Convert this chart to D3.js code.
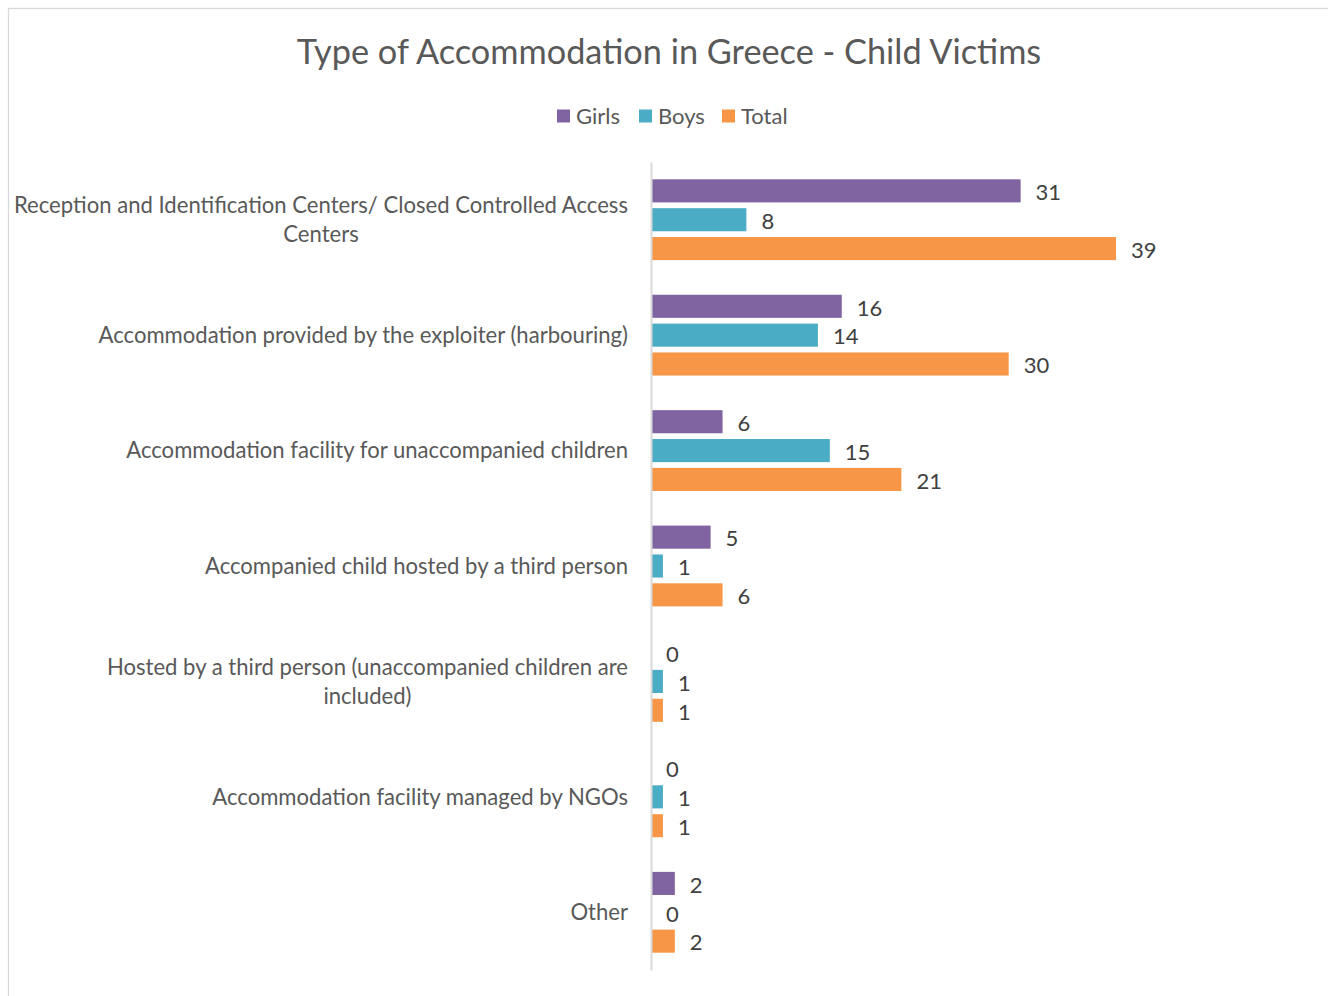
<!DOCTYPE html>
<html><head><meta charset="utf-8">
<script src="https://cdn.jsdelivr.net/npm/d3@7"></script>
<style>html,body{margin:0;padding:0;background:#fff;}svg{display:block;}</style>
</head><body>
<svg id="chart" width="1328" height="996"></svg>
<script>
// "\n" marks where the original label wraps onto a second line
const categories = [
  "Reception and Identification Centers/ Closed Controlled Access\nCenters",
  "Accommodation provided by the exploiter (harbouring)",
  "Accommodation facility for unaccompanied children",
  "Accompanied child hosted by a third person",
  "Hosted by a third person (unaccompanied children are\nincluded)",
  "Accommodation facility managed by NGOs",
  "Other"
];
const seriesNames = ["Girls", "Boys", "Total"];
const girls = [31, 16, 6, 5, 0, 0, 2];
const boys = [8, 14, 15, 1, 1, 1, 0];
const total = [39, 30, 21, 6, 1, 1, 2];
const colors = ["#8064A2", "#4BACC6", "#F79646"];

(function () {
const series = [girls, boys, total];
const svg = d3.select("#chart");
const font = "Lato, Carlito, Calibri, sans-serif";

// chart border
svg.append("rect").attr("x", 8.5).attr("y", 8.5).attr("width", 1340).attr("height", 1010)
  .attr("fill", "none").attr("stroke", "#D9D9D9").attr("stroke-width", 1.3);

const x0 = 651, plotTop = 162, plotBottom = 970;
const x = d3.scaleLinear().domain([0, 39]).range([x0, 1116]);
const y = d3.scaleBand().domain(categories).range([plotTop, plotBottom]).paddingInner(0.3).paddingOuter(0.15);
const ySub = d3.scaleBand().domain(seriesNames).range([0, y.bandwidth()]).paddingInner(0.2);

// title
svg.append("text").attr("x", 669).attr("y", 64).attr("text-anchor", "middle")
  .attr("font-family", font).attr("font-size", 34.3).attr("fill", "#595959")
  .text("Type of Accommodation in Greece - Child Victims");

// legend
const legendX = [557, 639, 722];
seriesNames.forEach((s, i) => {
  const g = svg.append("g").attr("transform", `translate(${legendX[i]},116)`);
  g.append("rect").attr("x", 0).attr("y", -6.5).attr("width", 13).attr("height", 13).attr("fill", colors[i]);
  g.append("text").attr("x", 19).attr("y", 0).attr("dy", "0.38em")
    .attr("font-family", font).attr("font-size", 22).attr("fill", "#595959").text(s);
});

// bars
const bandCenter = c => y(c) + y.bandwidth() / 2;
series.forEach((vals, si) => {
  const g = svg.append("g");
  g.selectAll("rect").data(categories).join("rect")
    .attr("x", x(0))
    .attr("y", c => y(c) + ySub(seriesNames[si]))
    .attr("width", (c, i) => x(vals[i]) - x(0))
    .attr("height", ySub.bandwidth())
    .attr("fill", colors[si]);
  g.selectAll("text").data(categories).join("text")
    .attr("x", (c, i) => x(vals[i]) + 15)
    .attr("y", c => y(c) + ySub(seriesNames[si]) + ySub.bandwidth() / 2)
    .attr("dy", "0.42em")
    .attr("font-family", font).attr("font-size", 22).attr("fill", "#404040")
    .text((c, i) => vals[i]);
});

// axis line
const yAxis = d3.axisLeft(d3.scaleLinear().range([plotTop, plotBottom])).ticks(0).tickSize(0).tickFormat("");
svg.append("g").attr("transform", `translate(${x0},0)`).call(yAxis)
  .call(g => g.select(".domain").attr("stroke", "#D9D9D9").attr("stroke-width", 2));

// category labels: lines centred within a right-aligned block
const lineH = 29, labelRight = 628;
categories.forEach(c => {
  const lines = c.split("\n");
  const t = svg.append("text").attr("text-anchor", "middle")
    .attr("font-family", font).attr("font-size", 22.1).attr("fill", "#595959");
  const cy = bandCenter(c);
  const spans = lines.map((l, i) => t.append("tspan")
    .attr("y", cy + (i - (lines.length - 1) / 2) * lineH)
    .attr("dy", "0.35em").text(l));
  const blockW = d3.max(spans, s => s.node().getComputedTextLength());
  spans.forEach(s => s.attr("x", labelRight - blockW / 2));
});
})();
</script>
</body></html>
